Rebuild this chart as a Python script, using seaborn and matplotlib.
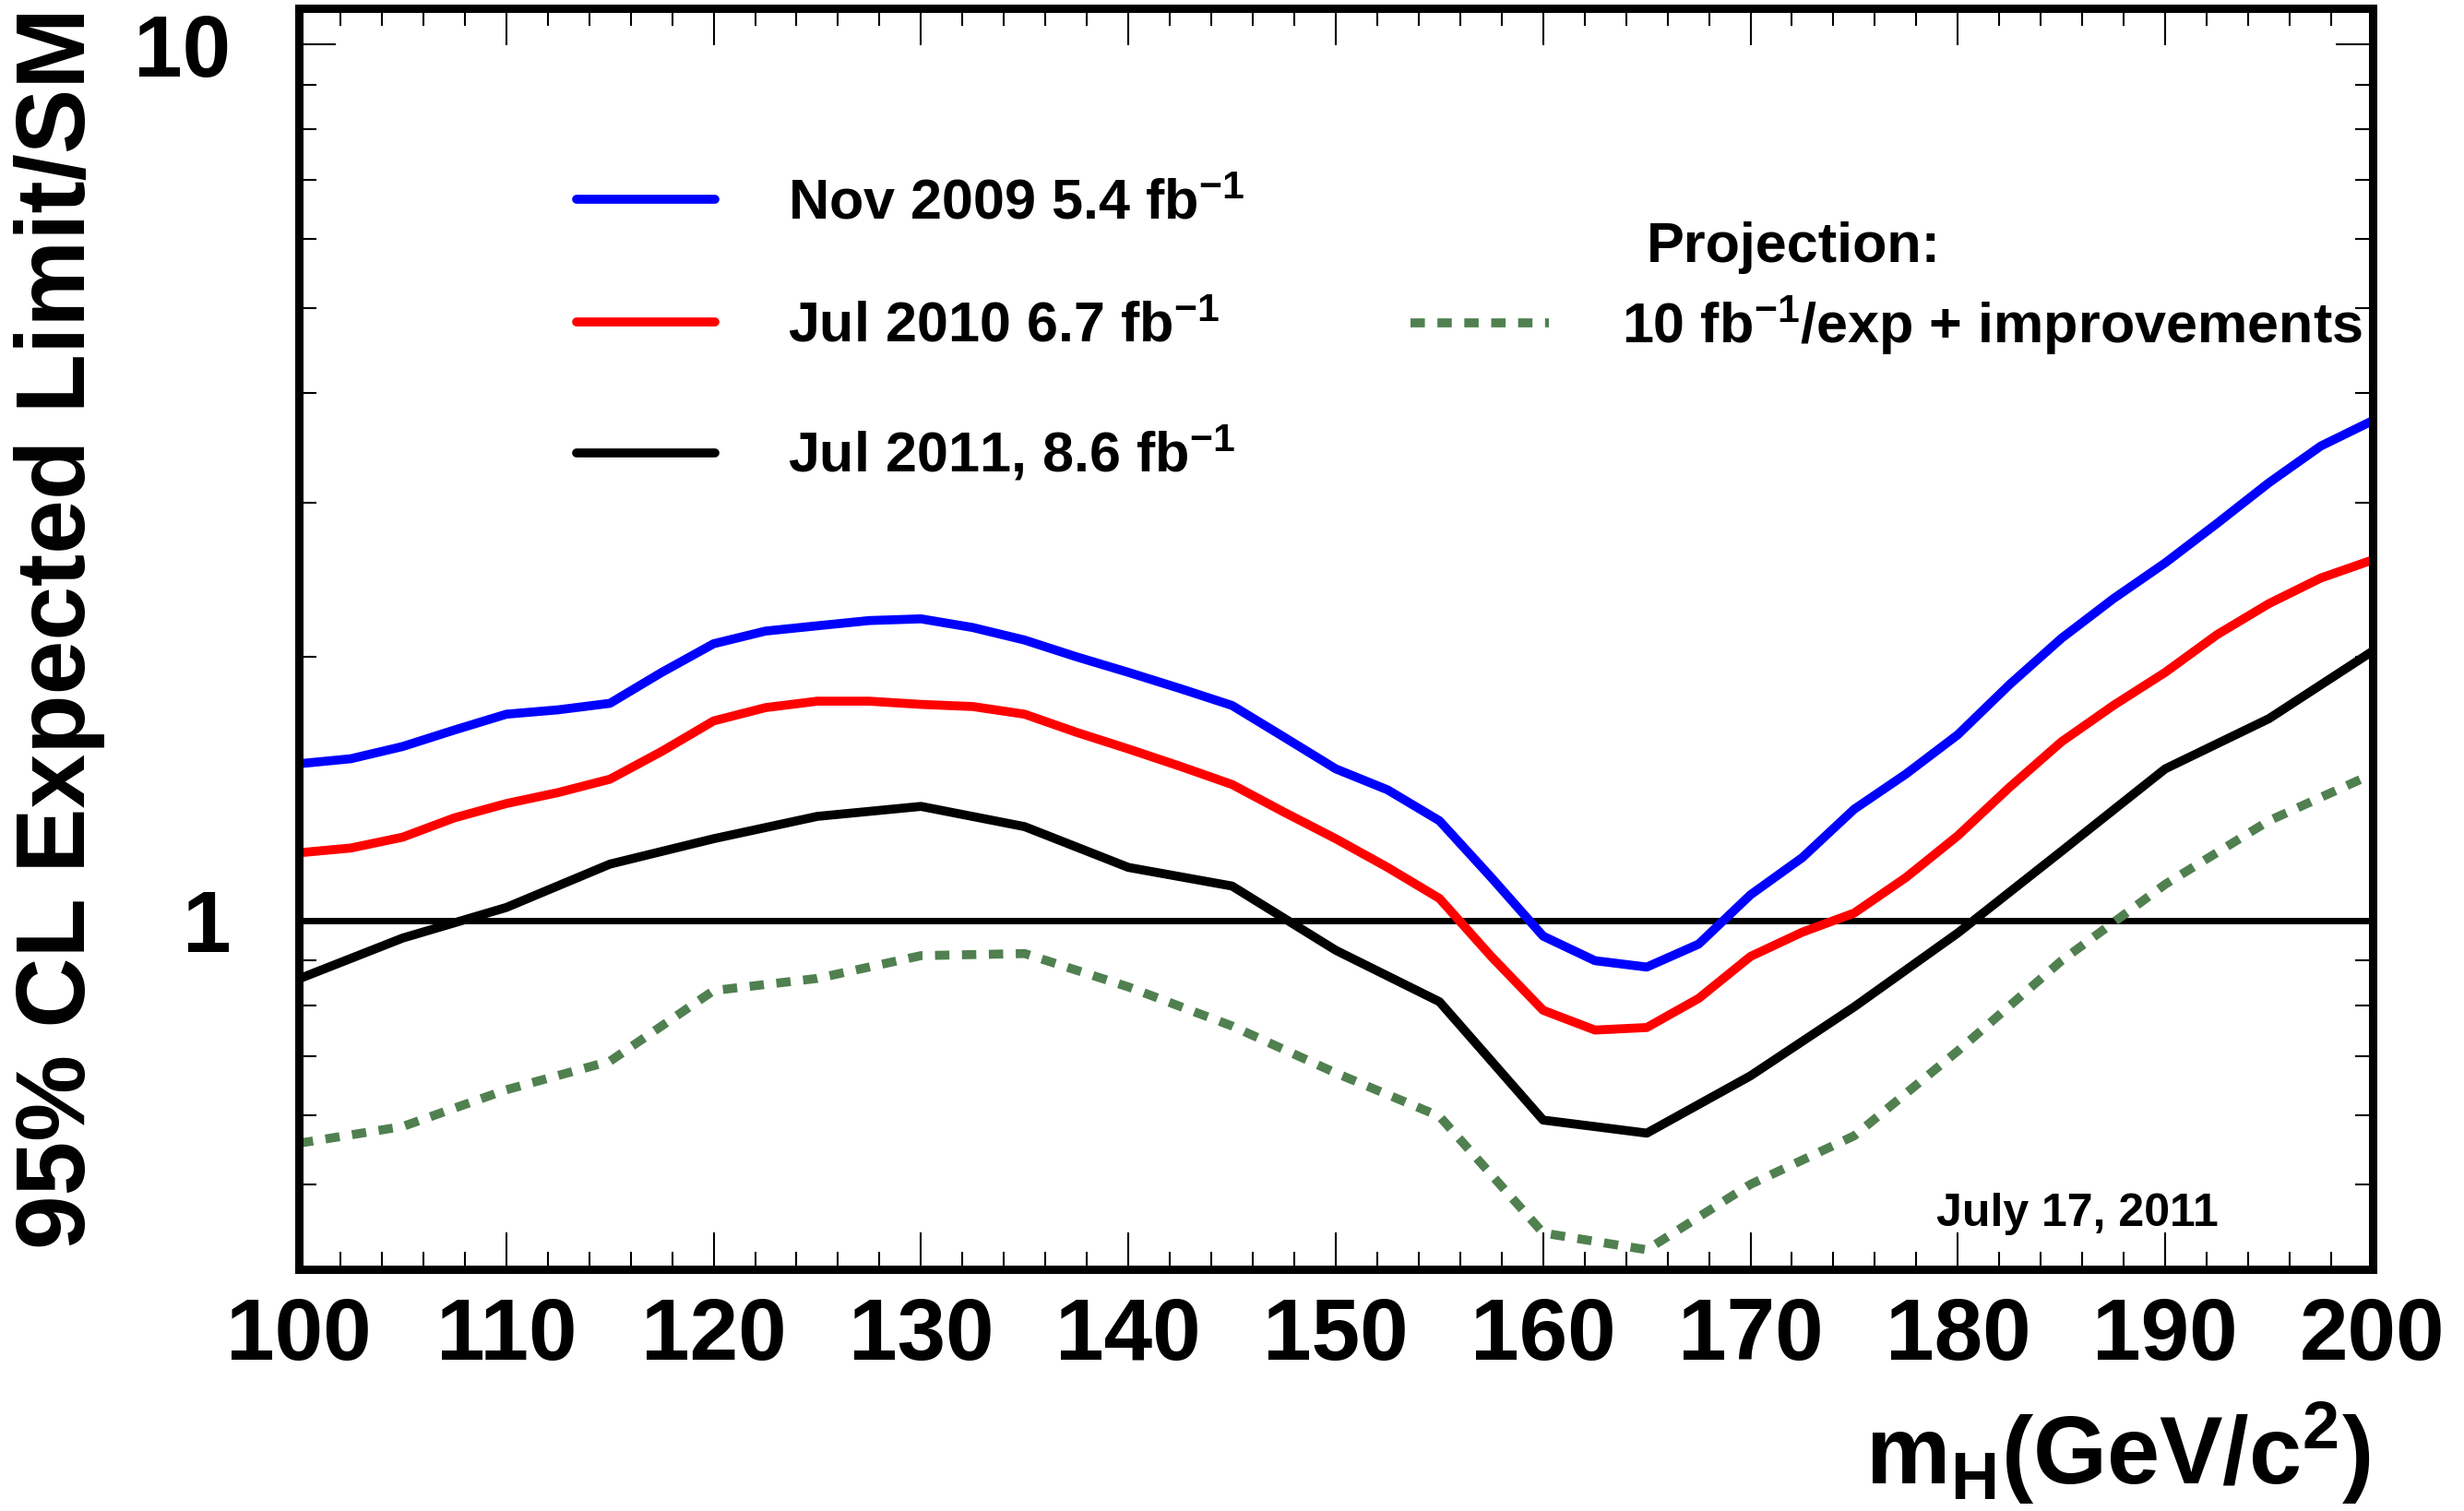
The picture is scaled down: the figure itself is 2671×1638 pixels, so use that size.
import numpy as np
import pandas as pd
import matplotlib
matplotlib.use('Agg')
import matplotlib.pyplot as plt
import seaborn as sns
from matplotlib.ticker import FixedLocator, NullFormatter, FixedFormatter

# masses (GeV/c^2)
mass_fine = [100, 102.5, 105, 107.5, 110, 112.5, 115, 117.5, 120, 122.5, 125, 127.5, 130,
             132.5, 135, 137.5, 140, 142.5, 145, 147.5, 150, 152.5, 155, 157.5, 160, 162.5,
             165, 167.5, 170, 172.5, 175, 177.5, 180, 182.5, 185, 187.5, 190, 192.5, 195,
             197.5, 200]
mass_coarse = [100, 105, 110, 115, 120, 125, 130, 135, 140, 145, 150, 155, 160, 165, 170,
               175, 180, 185, 190, 195, 200]

nov2009 = [1.51, 1.53, 1.58, 1.65, 1.72, 1.74, 1.77, 1.92, 2.07, 2.14, 2.17, 2.20, 2.21,
           2.16, 2.09, 2.00, 1.92, 1.84, 1.76, 1.62, 1.49, 1.41, 1.30, 1.12, 0.96, 0.90,
           0.885, 0.94, 1.07, 1.18, 1.34, 1.47, 1.63, 1.86, 2.10, 2.33, 2.56, 2.84, 3.16,
           3.48, 3.72]
jul2010 = [1.195, 1.21, 1.245, 1.31, 1.36, 1.40, 1.45, 1.56, 1.69, 1.75, 1.78, 1.78, 1.765,
           1.755, 1.72, 1.64, 1.57, 1.50, 1.43, 1.33, 1.24, 1.15, 1.06, 0.91, 0.79, 0.75,
           0.755, 0.815, 0.91, 0.97, 1.02, 1.12, 1.25, 1.42, 1.60, 1.76, 1.92, 2.12, 2.30,
           2.46, 2.58]
jul2011 = [0.858, 0.955, 1.035, 1.16, 1.24, 1.315, 1.35, 1.28, 1.15, 1.095, 0.925, 0.808,
           0.592, 0.572, 0.665, 0.797, 0.968, 1.20, 1.49, 1.70, 2.03]
projection = [0.557, 0.582, 0.641, 0.691, 0.832, 0.859, 0.912, 0.917, 0.84, 0.758, 0.67,
              0.598, 0.44, 0.421, 0.50, 0.568, 0.71, 0.90, 1.10, 1.30, 1.47]

labels = ['Nov 2009 5.4 fb$^{-1}$', 'Jul 2010 6.7 fb$^{-1}$', 'Jul 2011, 8.6 fb$^{-1}$']
proj_label = '10 fb$^{-1}$/exp + improvements'

sns.set_theme(style='ticks')
plt.rcParams['font.family'] = ['Liberation Sans', 'DejaVu Sans']
plt.rcParams['font.weight'] = 'bold'
plt.rcParams['mathtext.fontset'] = 'custom'
plt.rcParams['mathtext.rm'] = 'Liberation Sans:bold'
plt.rcParams['mathtext.it'] = 'Liberation Sans:bold'
plt.rcParams['mathtext.bf'] = 'Liberation Sans:bold'
for key in ['text.color', 'axes.labelcolor', 'xtick.color', 'ytick.color', 'axes.edgecolor']:
    plt.rcParams[key] = 'black'

fine = pd.DataFrame({'mass': mass_fine, 'nov2009': nov2009, 'jul2010': jul2010})
coarse = pd.DataFrame({'mass': mass_coarse, 'jul2011': jul2011, 'proj': projection})

fig = plt.figure(figsize=(26.71, 16.38), dpi=100)
ax = fig.add_axes([0.1213, 0.16, 0.8416, 0.8346])

lw = 7
ax.axhline(1, color='black', lw=5, zorder=1)
sns.lineplot(data=fine, x='mass', y='nov2009', ax=ax, color='#0000ff', lw=lw, legend=False)
sns.lineplot(data=fine, x='mass', y='jul2010', ax=ax, color='#ff0000', lw=lw, legend=False)
sns.lineplot(data=coarse, x='mass', y='jul2011', ax=ax, color='black', lw=lw, legend=False)
sns.lineplot(data=coarse, x='mass', y='proj', ax=ax, color='#508050', lw=lw, legend=False)
l_blue, l_red, l_black, l_green = ax.lines[1:5]
l_green.set_dashes([1.6, 1.4])

ax.set_yscale('log')
ax.set_xlim(100, 200)
ax.set_ylim(0.4, 11)
ax.set_xlabel('')
ax.set_ylabel('')

ax.xaxis.set_major_locator(FixedLocator(list(range(100, 201, 10))))
ax.xaxis.set_minor_locator(FixedLocator([m for m in range(100, 201, 2) if m % 10]))
ax.yaxis.set_major_locator(FixedLocator([1, 10]))
ax.yaxis.set_major_formatter(FixedFormatter(['1', '10']))
ax.yaxis.set_minor_locator(FixedLocator([0.4, 0.5, 0.6, 0.7, 0.8, 0.9, 2, 3, 4, 5, 6, 7, 8, 9]))
ax.yaxis.set_minor_formatter(NullFormatter())

ax.tick_params(which='both', direction='in', top=True, right=True, width=1.5, color='black')
ax.tick_params(which='major', length=29)
ax.tick_params(which='minor', length=14)
ax.tick_params(axis='x', which='major', labelsize=68, pad=21)
ax.tick_params(axis='y', which='major', labelsize=68, pad=53)
for lab in ax.get_xticklabels() + ax.get_yticklabels():
    lab.set_fontweight('bold')
    lab.set_color('black')

for sp in ax.spines.values():
    sp.set_linewidth(6.5)
    sp.set_color('black')
    sp.set_visible(True)

leg1 = ax.legend(handles=[l_blue, l_red, l_black], labels=labels, loc='upper left',
                 bbox_to_anchor=(0.134, 0.865), frameon=False, fontsize=44,
                 handlelength=2.45, handletextpad=1.3, labelspacing=1.25,
                 borderpad=0, borderaxespad=0)
ax.add_artist(leg1)
ax.legend(handles=[l_green], labels=[proj_label], loc='upper left',
          bbox_to_anchor=(0.536, 0.774), frameon=False, fontsize=44,
          handlelength=2.45, handletextpad=1.3, borderpad=0, borderaxespad=0)

ax.text(0.650, 0.810, 'Projection:', transform=ax.transAxes, fontsize=44,
        fontweight='bold', ha='left', va='center')
ax.text(0.7895, 0.044, 'July 17, 2011', transform=ax.transAxes, fontsize=36,
        fontweight='bold', ha='left', va='center')

fig.text(65 / 2671, 1 - 8 / 1638, '95% CL Expected Limit/SM', rotation=90,
         fontsize=76, fontweight='bold', ha='center', va='top')
fig.text(2569 / 2671, 4 / 1638, r'm$_{\mathrm{H}}$(GeV/c$^{2}$)', fontsize=74,
         fontweight='bold', ha='right', va='bottom')

fig.savefig('out.png', dpi=100)
